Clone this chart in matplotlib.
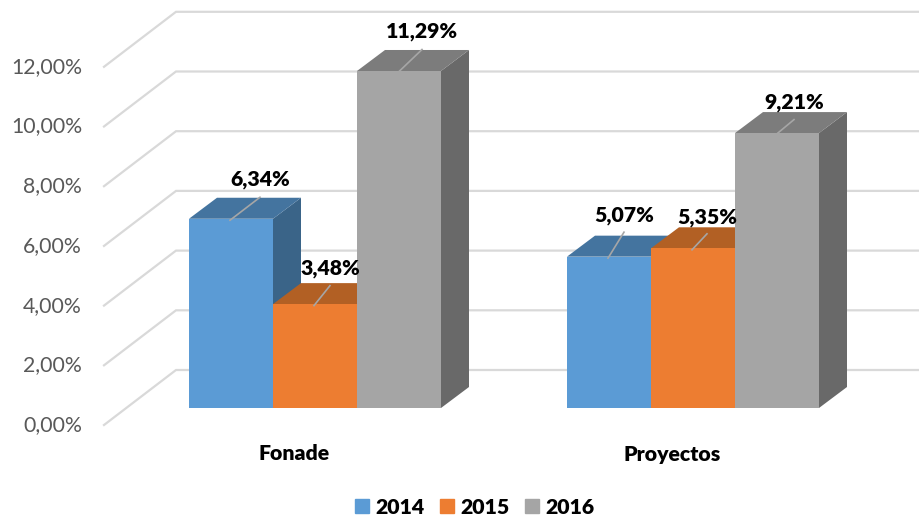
import matplotlib
matplotlib.use("Agg")
import matplotlib.pyplot as plt
from matplotlib.patches import Patch

categories = ["Fonade", "Proyectos"]
years = ["2014", "2015", "2016"]
v2014 = [6.34, 5.07]
v2015 = [3.48, 5.35]
v2016 = [11.29, 9.21]
yticks = [0, 2, 4, 6, 8, 10, 12]

# eixo em px na horizontal e em % na vertical: o "3D" é só deslocamento fixo
PX = 29.85  # px por 1%
Y0 = 408  # px do zero na frente das barras
DX, DY = 28, 21 / PX  # profundidade da barra

front = ["#5B9BD5", "#ED7D31", "#A5A5A5"]
top = ["#44749F", "#B26024", "#7C7C7C"]
side = ["#3A6488", "#984F1C", "#696969"]

plt.rcParams["font.family"] = ["Lato", "DejaVu Sans"]

fig = plt.figure(figsize=(9.2, 5.18), dpi=100)
ax = fig.add_axes([0, 0, 1, 1])
ax.set_xlim(0, 920)
ax.set_ylim(-(518 - Y0) / PX, Y0 / PX)
ax.axis("off")

# parede de fundo e piso
for t in yticks:
    ax.plot([104, 176, 920], [t - 17 / PX, t + 38 / PX, t + 38 / PX],
            color="#D9D9D9", lw=1.6, solid_joinstyle="miter", zorder=1)
    ax.text(82, t - 17 / PX, f"{t},00%", ha="right", va="center",
            fontsize=15.3, color="#595959")

group_x = [189, 567]
bar_w = 84
series = [v2014, v2015, v2016]

# deslocamento do rótulo em relação ao meio da frente da barra (px)
leader = [[(30, 23), (16, 26)], [(16, 20), (15, 16)], [(24, 23), (18, 15)]]
label_dy = [[16, 15], [16, 15], [16, 16]]

z = 2
for i, vals in enumerate(series):
    for j, v in enumerate(vals):
        x = group_x[j] + i * bar_w
        ax.fill([x + bar_w, x + bar_w + DX, x + bar_w + DX, x + bar_w],
                [0, DY, v + DY, v], color=side[i], lw=0, zorder=z)
        ax.fill([x, x + DX, x + bar_w + DX, x + bar_w],
                [v, v + DY, v + DY, v], color=top[i], lw=0, zorder=z)
        ax.bar(x, v, bar_w, align="edge", color=front[i], lw=0, zorder=z + 0.5)
        z += 1

for i, vals in enumerate(series):
    for j, v in enumerate(vals):
        cx = group_x[j] + i * bar_w + bar_w / 2
        lx, ly = leader[i][j]
        ax.plot([cx - 1, cx - 1 + lx], [v - 1.5 / PX, v + (ly - 1.5) / PX],
                color="#A6A6A6", lw=1.2, zorder=50)
        label = f"{v:.2f}%".replace(".", ",")
        ax.text(cx - 1 + lx, v + (ly + label_dy[i][j]) / PX, label, ha="center",
                va="center", fontsize=15.3, fontweight=800, color="black", zorder=60)

for j, name in enumerate(categories):
    ax.text(group_x[j] + 105, -(454 - Y0) / PX, name, ha="center", va="center",
            fontsize=15.3, fontweight=800, color="black")

handles = [Patch(color=c) for c in front]
ax.legend(handles, years, loc="center", bbox_to_anchor=(475 / 920, 1 - 507 / 518),
          ncol=3, frameon=False, handlelength=0.67, handleheight=0.67,
          handletextpad=0.3, columnspacing=0.72,
          prop={"weight": 800, "size": 15.3})

fig.savefig("out.png", dpi=100)
